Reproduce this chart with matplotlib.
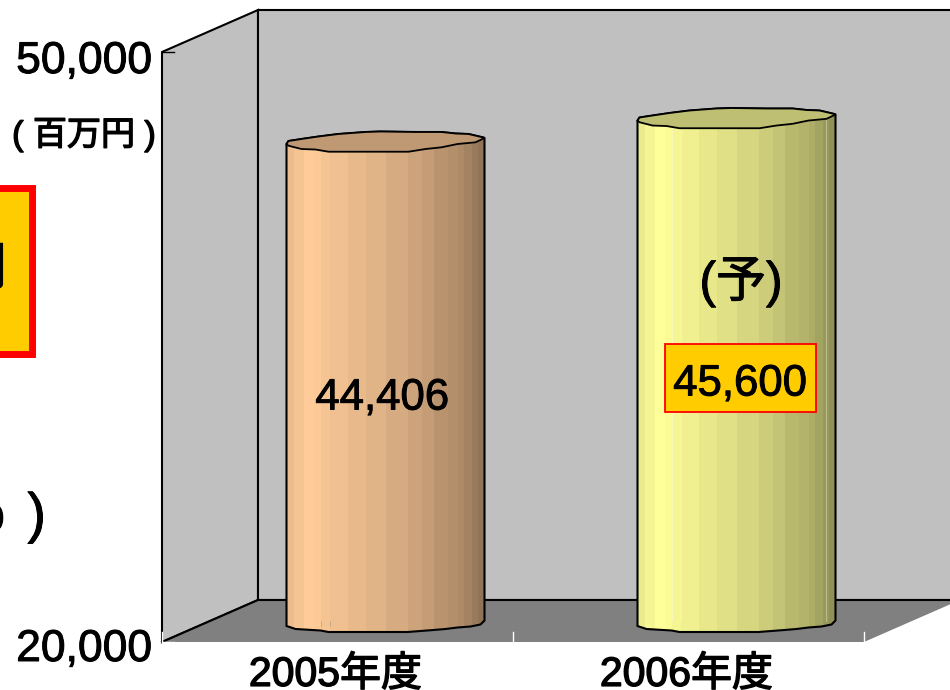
import matplotlib
matplotlib.use('Agg')
import matplotlib.pyplot as plt
import matplotlib.patheffects as pe
import numpy as np
from matplotlib.patches import Polygon, Rectangle
from matplotlib.transforms import Affine2D, IdentityTransform

years = ['2005年度', '2006年度']
sales = [44406, 45600]
y_ticks = [20000, 50000]
y_tick_labels = ['20,000', '50,000']
base_colors = ['#ffcc99', '#ffff99']

W, H = 950, 690
FONT = ['Liberation Sans', 'Noto Sans CJK JP']
plt.rcParams['font.family'] = FONT
heavy = [pe.withStroke(linewidth=0.7, foreground='black')]
heavier = [pe.withStroke(linewidth=1.0, foreground='black')]

# front plane of the 3d box, in pixels from the top left
left, right, top, bottom = 162, 864, 52, 642
depth = (96, 42)

fig = plt.figure(figsize=(W / 100, H / 100), dpi=100)
ax = fig.add_axes([left / W, 1 - bottom / H, (right - left) / W, (bottom - top) / H])
ax.set_xlim(-0.5, 1.5)
ax.set_ylim(20000, 50000)
ax.patch.set_visible(False)
for s in ax.spines.values():
    s.set_visible(False)


def p(x, v, d=0.0):
    px, py = ax.transData.transform((x, v))
    return px + d * depth[0], py + d * depth[1]


px_top = Affine2D().scale(1, -1).translate(0, H)
ident = IdentityTransform()

# walls and floor
ax.add_patch(Polygon([p(-0.5, 20000), p(-0.5, 50000), p(-0.5, 50000, 1), p(-0.5, 20000, 1)],
                     fc='#c0c0c0', ec='black', lw=1.5, transform=ident, clip_on=False,
                     joinstyle='miter', zorder=0.5))
ax.add_patch(Polygon([p(-0.5, 20000, 1), p(-0.5, 50000, 1), p(1.5, 50000, 1), p(1.5, 20000, 1)],
                     fc='#c0c0c0', ec='black', lw=1.5, transform=ident, clip_on=False, zorder=0.5))
ax.add_patch(Polygon([p(-0.5, 20000), p(-0.5, 20000, 1), p(1.5, 20000, 1), p(1.5, 20000)],
                     fc='#808080', ec='none', transform=ident, clip_on=False, zorder=0.6))
xs, ys = zip(p(-0.5, 20000), p(-0.5, 20000, 1), p(1.5, 20000, 1))
ax.plot(xs, ys, color='black', lw=1.5, transform=ident, clip_on=False,
        solid_joinstyle='miter', zorder=0.7)

# cylinder shape, pixel offsets from the centre of the top
top_edge = [(-99, 3), (-97, 0), (-84, -2), (-67, -4.5), (-47, -7), (-20, -9), (-5, -9.5), (30, -9), (56, -9),
            (70, -7.5), (83, -7), (98, -3.5), (99, -3)]
top_lower = [(99, -3), (90, 1.3), (72, 3), (56, 6.3), (40, 8), (23, 10.7), (-57, 10.7), (-70, 8.5), (-84, 8),
             (-97, 4.7), (-99, 3)]
base_edge = [(-99, 5), (-90, 8), (-65, 9.5), (-57, 11), (22, 11), (48, 9), (60, 8), (72, 6.5), (85, 5.5),
             (95, 3.5), (99, -0.5)]
band_edges = [-99, -92, -82, -72, -65, -56, -38, -20, 0, 22, 36, 48, 62, 72, 78, 86, 92, 99]
band_shades = [0.92, 0.96, 1.0, 0.99, 0.96, 0.94, 0.91, 0.88, 0.84, 0.80, 0.77, 0.72, 0.70, 0.68, 0.64, 0.60, 0.57]
faint_lines = [-65, -56, 89]

for i, (value, col) in enumerate(zip(sales, base_colors)):
    tx, ty = p(i, value, 0.5)
    bx, by = p(i, 20000, 0.5)
    to_top = Affine2D().scale(1, -1).translate(tx, ty)
    to_base = Affine2D().scale(1, -1).translate(bx, by)
    # body outline, in display coordinates
    upper = [to_top.transform(q) for q in top_edge]
    lower = [to_base.transform(q) for q in base_edge]
    body = Polygon(upper + lower[::-1], closed=True, fc='none', ec='none', transform=ident)
    ax.add_patch(body)
    rgb = np.array(matplotlib.colors.to_rgb(col))
    for j, sh in enumerate(band_shades):
        r = Rectangle((tx + band_edges[j], by - 20), band_edges[j + 1] - band_edges[j] + 0.5, ty - by + 40,
                      fc=rgb * sh, ec='none', transform=ident)
        ax.add_patch(r)
        r.set_clip_path(body)
    for off in faint_lines:
        # the yellow one shows them all the way up, the other only near the floor
        y_from = ty if i == 1 else by - 5
        ln, = ax.plot([tx + off, tx + off], [by, y_from], color='#808080' if i == 0 else 'white',
                      alpha=0.35, lw=0.7, transform=ident)
        ln.set_clip_path(body)
    ax.add_patch(Polygon(upper + lower[::-1], closed=True, fc='none', ec='black', lw=1.5,
                         transform=ident, clip_on=False, zorder=3))
    ax.add_patch(Polygon(top_edge + top_lower, closed=True, fc=rgb * 0.75, ec='black', lw=1.3,
                         transform=to_top, clip_on=False, zorder=4))

# ticks and tick labels
ax.set_yticks(y_ticks)
ax.set_yticklabels(y_tick_labels, fontsize=32)
ax.set_xticks([0, 1])
ax.set_xticklabels(years, fontsize=29.5)
ax.tick_params(axis='y', length=0, pad=7)
ax.tick_params(axis='x', length=0, pad=10)
for lab, dy in zip(ax.get_yticklabels(), [-3, -5]):
    lab.set_transform(lab.get_transform() + Affine2D().translate(0, dy))
    lab.set_path_effects(heavy)
for lab in ax.get_xticklabels():
    lab.set_transform(lab.get_transform() + Affine2D().translate(-2, 0))
    lab.set_path_effects(heavier)
for v, c in zip(y_ticks, ['white', 'black']):
    ax.plot([left, left + 12], [H - (bottom if v == 20000 else top)] * 2, color=c, lw=1,
            transform=ident, clip_on=False, zorder=5)
for x in [-0.5, 0.5, 1.5]:
    xx, yy = p(x, 20000)
    ax.plot([xx, xx], [yy, yy + 10], color='white', lw=1, transform=ident, clip_on=False, zorder=5)

# text
ax.text(84, 135, '( 百万円 )', fontsize=24.5, ha='center', va='center', transform=px_top, path_effects=heavier)
ax.text(382, 398, f'{sales[0]:,}', fontsize=31.5, ha='center', va='center', transform=px_top, zorder=6,
        path_effects=heavy)
ax.text(741, 282, '(予)', fontsize=36, ha='center', va='center', transform=px_top, zorder=6, path_effects=heavy)
ax.text(740, 384, f'{sales[1]:,}', fontsize=31.5, ha='center', va='center', transform=px_top, zorder=7,
        path_effects=heavy)
ax.add_patch(Rectangle((664.5, 343.5), 151, 68, fc='#ffcc00', ec='#ff0000', lw=1.3,
                       transform=px_top, clip_on=False, zorder=6))

# callout cut off by the left edge of the picture
ax.add_patch(Rectangle((-100, 187.5), 132, 166, fc='#ffcc00', ec='#ff0000', lw=5,
                       transform=px_top, clip_on=False, zorder=6))
ax.text(7, 270, '円', fontsize=38, ha='right', va='center', transform=px_top, zorder=7, path_effects=heavy)
ax.text(46, 518, ')', fontsize=40, ha='right', va='center', transform=px_top, zorder=7, path_effects=heavy)
ax.text(5, 518, 'o', fontsize=36, ha='right', va='center', transform=px_top, zorder=7, path_effects=heavy)

fig.savefig('out.png', dpi=100)
